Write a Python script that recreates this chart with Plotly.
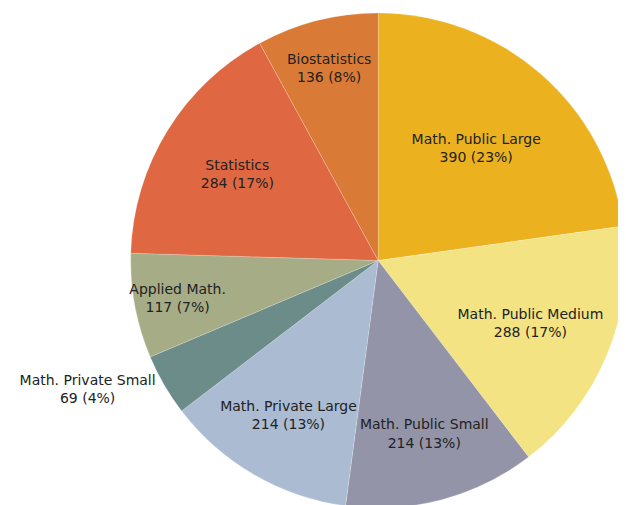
import plotly.graph_objects as go

labels = ['Math. Public Large', 'Math. Public Medium', 'Math. Public Small',
          'Math. Private Large', 'Math. Private Small', 'Applied Math.',
          'Statistics', 'Biostatistics']
values = [390, 288, 214, 214, 69, 117, 284, 136]
colors = ['#EBB11F', '#F3E383', '#9394A8', '#AABBD2',
          '#6C8C89', '#A6AC86', '#DF6843', '#DA7A37']
positions = ['inside', 'inside', 'inside', 'inside', 'outside', 'inside', 'inside', 'inside']

total = sum(values)
# round half up, so 12.5% shows as 13%
text = ['%s<br>%d (%d%%)' % (l, v, int(100.0 * v / total + 0.5)) for l, v in zip(labels, values)]

fig = go.Figure()
fig.add_trace(go.Pie(
    labels=labels,
    values=values,
    text=text,
    textinfo='text',
    textposition=positions,
    insidetextorientation='horizontal',
    sort=False,
    direction='clockwise',
    rotation=0,
    marker=dict(colors=colors, line=dict(color='rgba(255,255,255,0.4)', width=0.5)),
    textfont=dict(family='DejaVu Sans', size=14, color='#222222'),
    domain=dict(x=[0.196, 1.0], y=[0.0, 0.99]),
    showlegend=False,
))
fig.update_layout(
    width=626, height=505,
    margin=dict(l=0, r=0, t=0, b=0),
    paper_bgcolor='white',
    uniformtext=dict(minsize=14, mode='show'),
)
fig.write_html("out.html")
